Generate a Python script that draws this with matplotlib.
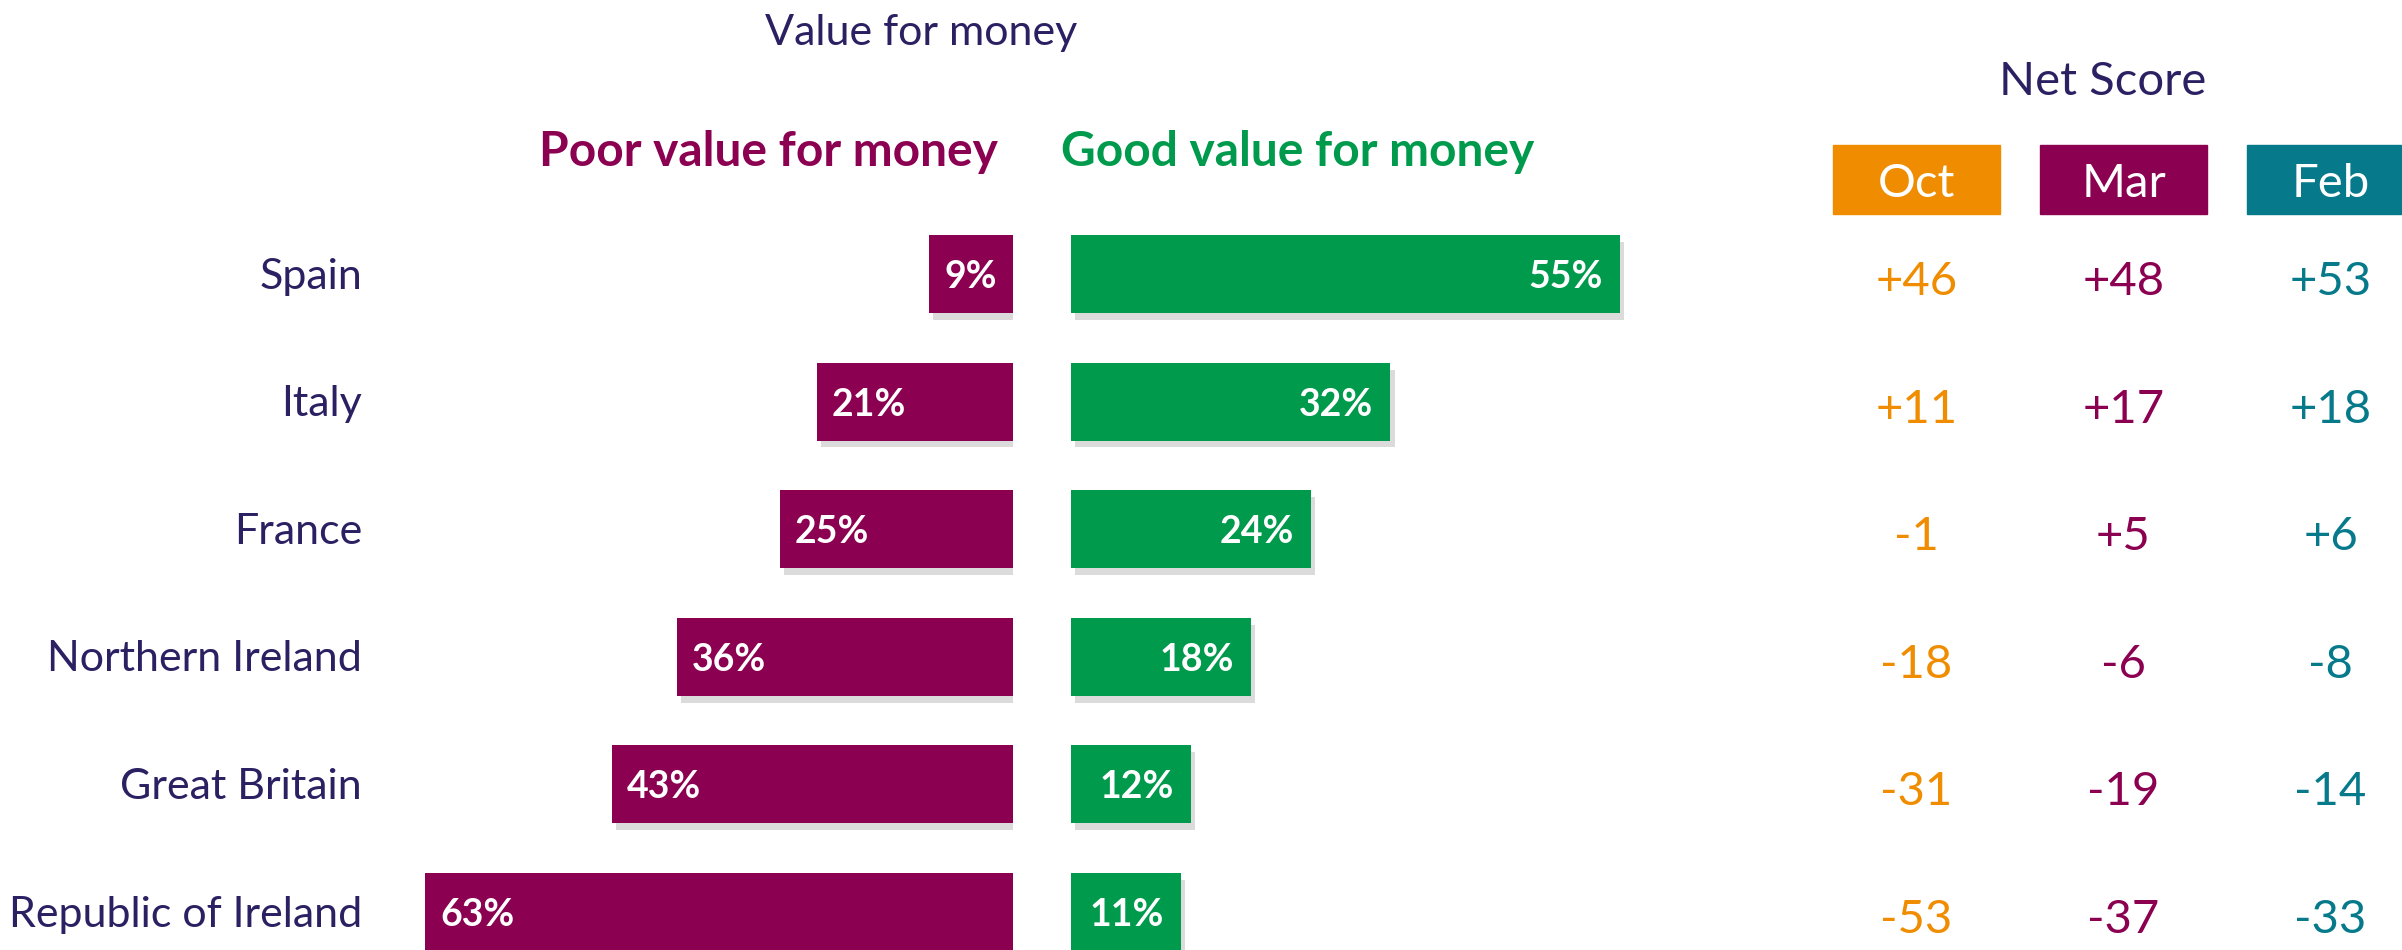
import matplotlib
matplotlib.use("Agg")
import matplotlib.pyplot as plt
import matplotlib.patheffects as pe
from matplotlib.patches import Rectangle
from matplotlib.transforms import offset_copy

plt.rcParams['font.family'] = ['Lato', 'DejaVu Sans']

countries = ["Spain", "Italy", "France", "Northern Ireland", "Great Britain", "Republic of Ireland"]
poor = [9, 21, 25, 36, 43, 63]
good = [55, 32, 24, 18, 12, 11]

months = ["Oct", "Mar", "Feb"]
net_oct = [46, 11, -1, -18, -31, -53]
net_mar = [48, 17, 5, -6, -19, -37]
net_feb = [53, 18, 6, -8, -14, -33]

NAVY = '#2b2162'
MAROON = '#8b0050'
GREEN = '#009a4d'
ORANGE = '#ef8c00'
TEAL = '#06798a'
month_colors = [ORANGE, MAROON, TEAL]

W, H = 2402, 950
fig = plt.figure(figsize=(W / 100, H / 100), dpi=100)


def px_axes(x0, x1, y0, y1):
    # axes placed by pixel box (y measured from top)
    ax = fig.add_axes([x0 / W, 1 - y1 / H, (x1 - x0) / W, (y1 - y0) / H])
    ax.axis('off')
    return ax


row_top, row_bot = 210.2, 950.3
ylim = (5.3, -0.5)
bar_h = 0.61
shadow = [pe.SimplePatchShadow(offset=(3, -5), shadow_rgbFace='#888888', alpha=0.3), pe.Normal()]

# poor value bars (grow to the left)
axl = px_axes(380, 1013, row_top, row_bot)
axl.set_xlim(633 / 9.33, 0)
axl.set_ylim(*ylim)
rows = range(len(countries))
bars = axl.barh(rows, poor, height=bar_h, color=MAROON)
for b in bars:
    b.set_path_effects(shadow)
tr = offset_copy(axl.transData, fig, x=15, y=-14, units='dots')
for i, v in enumerate(poor):
    axl.text(v, i, f"{v}%", transform=tr, ha='left', va='baseline',
             color='white', fontsize=27, fontweight='bold')

# country names
tr = offset_copy(axl.get_yaxis_transform(), fig, x=-18, y=-14.5, units='dots')
for i, c in enumerate(countries):
    axl.text(0, i, c, transform=tr, ha='right', va='baseline', color=NAVY, fontsize=31)

# good value bars
axr = px_axes(1071, 1700, row_top, row_bot)
axr.set_xlim(0, 629 / 9.98)
axr.set_ylim(*ylim)
bars = axr.barh(rows, good, height=bar_h, color=GREEN)
for b in bars:
    b.set_path_effects(shadow)
tr = offset_copy(axr.transData, fig, x=-17, y=-14, units='dots')
for i, v in enumerate(good):
    axr.text(v, i, f"{v}%", transform=tr, ha='right', va='baseline',
             color='white', fontsize=27, fontweight='bold')

# net score table
axn = px_axes(1750, 2402, row_top, row_bot)
axn.set_xlim((1750 - 1916.5) / 207, (2402 - 1916.5) / 207)
axn.set_ylim(*ylim)
tr = offset_copy(axn.transData, fig, x=0, y=-21, units='dots')
for j, vals in enumerate([net_oct, net_mar, net_feb]):
    for i, v in enumerate(vals):
        axn.text(j, i, f"{v:+d}", transform=tr, ha='center', va='baseline',
                 color=month_colors[j], fontsize=34)

head_y = (179.5 - 274) / 127.6
tr = offset_copy(axn.transData, fig, x=0, y=-17.5, units='dots')
for j, m in enumerate(months):
    axn.add_patch(Rectangle((j - 0.4035, head_y - 0.27), 0.807, 0.541,
                            color=month_colors[j], clip_on=False))
    axn.text(j, head_y, m, transform=tr, ha='center', va='baseline',
             color='white', fontsize=34)

# titles
fig.text(921 / W, 1 - 45 / H, "Value for money", ha='center', va='baseline', color=NAVY, fontsize=31)
fig.text(998 / W, 1 - 165.7 / H, "Poor value for money", ha='right', va='baseline',
         color=MAROON, fontsize=34.5, fontweight='bold')
fig.text(1061 / W, 1 - 165.7 / H, "Good value for money", ha='left', va='baseline',
         color=GREEN, fontsize=34.5, fontweight='bold')
fig.text(2103 / W, 1 - 95 / H, "Net Score", ha='center', va='baseline', color=NAVY, fontsize=34)

fig.savefig("out.png", dpi=100, facecolor='white')
